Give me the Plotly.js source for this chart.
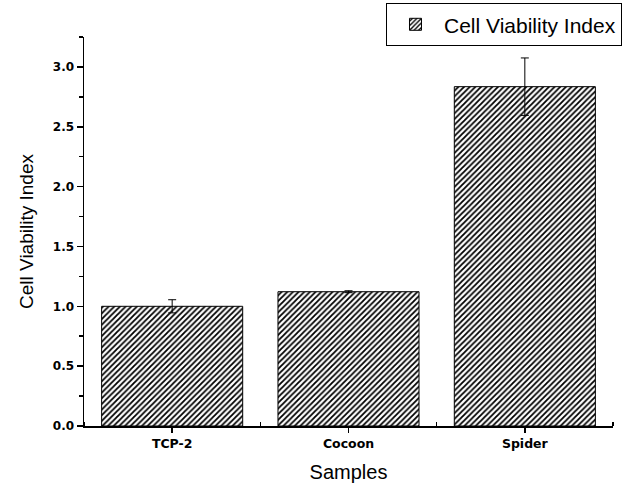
<!DOCTYPE html>
<html>
<head>
<meta charset="utf-8">
<script src="https://cdn.plot.ly/plotly-3.0.1.min.js"></script>
<style>html,body{margin:0;padding:0;background:#fff;}#chart{width:624px;height:488px;}</style>
</head>
<body>
<div id="chart"></div>
<script>
const categories = ["TCP-2", "Cocoon", "Spider"];
const values = [1.0, 1.122, 2.835];
const errors = [0.055, 0.008, 0.24];
const seriesName = "Cell Viability Index";

const positions = categories.map((c, i) => i);

const trace = {
  type: "bar",
  x: positions,
  y: values,
  name: seriesName,
  width: 0.8,
  marker: {
    color: "#ffffff",
    line: { color: "#000000", width: 1 },
    pattern: { shape: "/", fgcolor: "#000000", bgcolor: "#ffffff", size: 4, solidity: 0.45 }
  },
  error_y: { type: "data", array: errors, visible: true, color: "#000000", thickness: 1, width: 4 },
  showlegend: true
};

const sans = "Liberation Sans, Arial, sans-serif";
const tickFamily = "DejaVu Sans, sans-serif";

const layout = {
  width: 624,
  height: 488,
  margin: { l: 84, r: 11, t: 37, b: 62, autoexpand: false },
  paper_bgcolor: "#ffffff",
  plot_bgcolor: "#ffffff",
  font: { family: sans, color: "#000000" },
  showlegend: true,
  legend: {
    x: 1.017, y: 1.087, xanchor: "right", yanchor: "top",
    bordercolor: "#000000", borderwidth: 1, bgcolor: "#ffffff",
    font: { family: sans, size: 21, color: "#000000" },
    tracegroupgap: 0, itemwidth: 47
  },
  xaxis: {
    range: [-0.5, 2.5],
    tickmode: "array",
    tickvals: positions,
    ticktext: categories,
    ticks: "outside", ticklen: 5, tickwidth: 1.5, tickcolor: "#000",
    minor: { ticks: "inside", tick0: -0.5, dtick: 1, ticklen: 4, tickwidth: 1.5, tickcolor: "#000" },
    showline: true, linecolor: "#000", linewidth: 1.5,
    showgrid: false, zeroline: false, automargin: false,
    tickfont: { family: tickFamily, size: 12.5, weight: "bold", color: "#000" },
    title: { text: "Samples", font: { family: sans, size: 20, color: "#000" }, standoff: 15 }
  },
  yaxis: {
    range: [0, 3.25],
    dtick: 0.5, tick0: 0,
    tickformat: ".1f",
    ticks: "outside", ticklen: 6, tickwidth: 1.5, tickcolor: "#000",
    minor: { ticks: "outside", dtick: 0.25, ticklen: 4, tickwidth: 1.5, tickcolor: "#000" },
    showline: true, linecolor: "#000", linewidth: 1.5,
    showgrid: false, zeroline: false, automargin: false,
    tickfont: { family: tickFamily, size: 12, weight: "bold", color: "#000" },
    title: { text: "Cell Viability Index", font: { family: sans, size: 19, color: "#000" }, standoff: 14 }
  }
};

Plotly.newPlot("chart", [trace], layout, { displayModeBar: false, staticPlot: true });
</script>
</body>
</html>
